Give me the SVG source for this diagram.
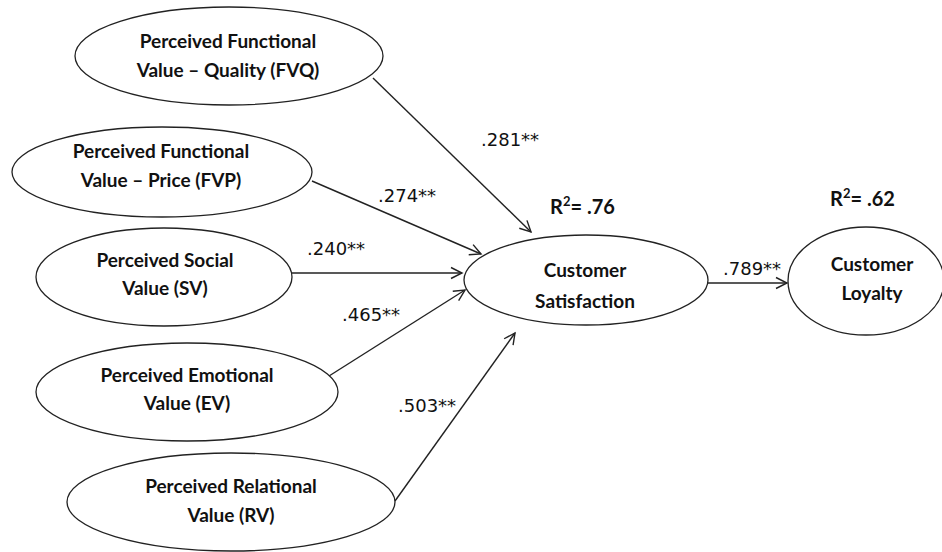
<svg xmlns="http://www.w3.org/2000/svg" width="942" height="552" viewBox="0 0 942 552">
<style>
.node ellipse{fill:#fff;stroke:#222;stroke-width:1.3}
.node text{font-family:Lato,"Liberation Sans",sans-serif;font-weight:bold;font-size:19px;fill:#111;text-anchor:middle}
.edges line{stroke:#222;stroke-width:1.4;marker-end:url(#arr)}
.lbl{font-family:"DejaVu Sans",sans-serif;font-size:18px;fill:#111}
.r2{font-family:Lato,"Liberation Sans",sans-serif;font-weight:bold;font-size:20px;fill:#111}
</style>
<defs>
<marker id="arr" markerWidth="14" markerHeight="14" viewBox="-12 -6 14 12" refX="0" refY="0" orient="auto" markerUnits="userSpaceOnUse">
<path d="M-11,-5.5 L0,0 L-11,5.5" fill="none" stroke="#222" stroke-width="1.4"/>
</marker>
</defs>
<rect width="942" height="552" fill="#fff"/>
<g class="edges">
<line x1="373" y1="78" x2="531" y2="232"/>
<line x1="312" y1="181" x2="481" y2="254"/>
<line x1="292" y1="273" x2="462" y2="273"/>
<line x1="329" y1="376" x2="465" y2="290"/>
<line x1="395" y1="501" x2="515" y2="333"/>
<line x1="708" y1="283" x2="787" y2="283"/>
</g>
<g id="fvq" class="node"><ellipse cx="229" cy="56" rx="154" ry="49"/><text x="228" y="48">Perceived Functional</text><text x="228" y="77">Value – Quality (FVQ)</text></g>
<g id="fvp" class="node"><ellipse cx="162" cy="172" rx="150" ry="45"/><text x="161" y="158">Perceived Functional</text><text x="161" y="187">Value – Price (FVP)</text></g>
<g id="sv" class="node"><ellipse cx="164" cy="277" rx="128" ry="49"/><text x="165" y="267">Perceived Social</text><text x="165" y="295">Value (SV)</text></g>
<g id="ev" class="node"><ellipse cx="187" cy="392" rx="151" ry="49"/><text x="187" y="382">Perceived Emotional</text><text x="187" y="410">Value (EV)</text></g>
<g id="rv" class="node"><ellipse cx="231" cy="502" rx="164" ry="49"/><text x="231" y="493">Perceived Relational</text><text x="231" y="522">Value (RV)</text></g>
<g id="cs" class="node"><ellipse cx="586" cy="280" rx="122" ry="45"/><text x="585" y="277">Customer</text><text x="585" y="308">Satisfaction</text></g>
<g id="cl" class="node"><ellipse cx="866" cy="281" rx="78" ry="54"/><text x="872" y="271">Customer</text><text x="872" y="300">Loyalty</text></g>
<g id="labels">
<text class="lbl" x="481" y="146">.281**</text>
<text class="lbl" x="378" y="202">.274**</text>
<text class="lbl" x="307" y="255">.240**</text>
<text class="lbl" x="342" y="321">.465**</text>
<text class="lbl" x="398" y="412">.503**</text>
<text class="lbl" x="723" y="275">.789**</text>
<text class="r2" x="550" y="214">R<tspan font-size="13" dy="-8">2</tspan><tspan dy="8">= .76</tspan></text>
<text class="r2" x="830" y="206">R<tspan font-size="13" dy="-8">2</tspan><tspan dy="8">= .62</tspan></text>
</g>
</svg>
